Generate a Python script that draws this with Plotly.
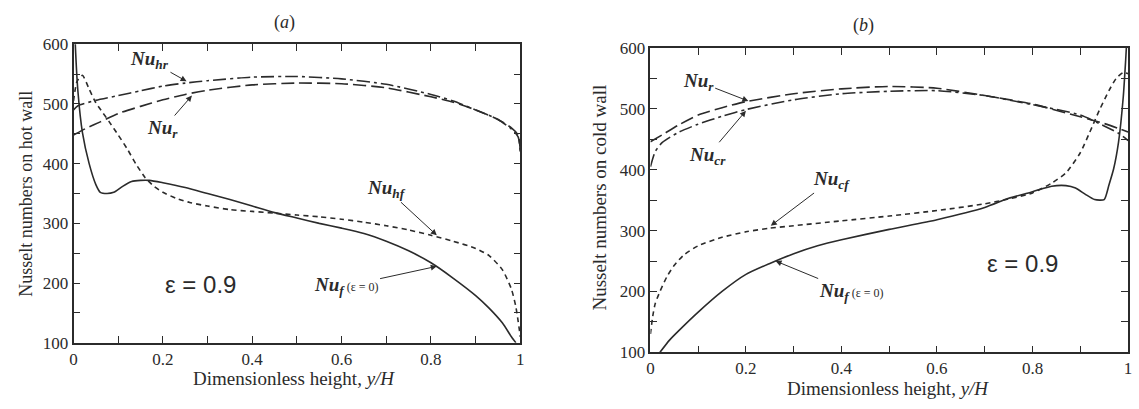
import plotly.graph_objects as go

# ---------------- data: panel (a) hot wall ----------------
hot_nuf_x = [0.0, 0.004, 0.01, 0.02, 0.035, 0.05, 0.06, 0.075, 0.09, 0.11, 0.13, 0.15, 0.17, 0.2, 0.25, 0.3,
             0.35, 0.4, 0.45, 0.5, 0.55, 0.6, 0.65, 0.7, 0.75, 0.8, 0.85, 0.9, 0.93, 0.96, 0.98, 0.99]
hot_nuf_y = [700, 600, 520, 452, 400, 365, 352, 350, 352, 362, 370, 372, 372, 368, 360, 350,
             340, 329, 318, 309, 300, 292, 283, 270, 254, 234, 208, 179, 158, 133, 110, 100]

hot_nuhf_x = [0.0, 0.008, 0.02, 0.035, 0.05, 0.065, 0.08, 0.1, 0.12, 0.14, 0.16, 0.18, 0.2, 0.23, 0.26,
              0.3, 0.35, 0.4, 0.45, 0.5, 0.55, 0.6, 0.65, 0.7, 0.75, 0.8, 0.85, 0.9, 0.93, 0.96, 0.98,
              0.99, 1.0]
hot_nuhf_y = [505, 538, 548, 525, 502, 486, 470, 448, 425, 399, 377, 362, 352, 342, 335,
              329, 323, 320, 317, 314, 311, 307, 302, 296, 289, 280, 270, 258, 246, 222, 190,
              160, 110]

hot_nur_x = [0.0, 0.01, 0.03, 0.06, 0.1, 0.15, 0.2, 0.25, 0.3, 0.4, 0.5, 0.6, 0.7, 0.8, 0.85, 0.9,
             0.95, 0.98, 0.995, 1.0]
hot_nur_y = [448, 452, 460, 470, 484, 496, 507, 516, 523, 532, 535, 534, 527, 512, 503, 490,
             474, 460, 448, 420]

hot_nuhr_x = [0.0, 0.01, 0.05, 0.1, 0.15, 0.2, 0.25, 0.3, 0.4, 0.5, 0.6, 0.7, 0.8, 0.85, 0.9, 0.95,
              0.98, 0.995, 1.0]
hot_nuhr_y = [490, 497, 506, 514, 522, 530, 535, 539, 545, 546, 542, 533, 516, 505, 490, 474,
              458, 445, 420]

# ---------------- data: panel (b) cold wall ----------------
cold_nuf_x = [0.02, 0.04, 0.06, 0.1, 0.15, 0.2, 0.25, 0.3, 0.35, 0.4, 0.5, 0.6, 0.7, 0.75, 0.8, 0.84,
              0.87, 0.89, 0.91, 0.93, 0.95, 0.96, 0.97, 0.98, 0.99, 0.995, 1.0]
cold_nuf_y = [100, 120, 136, 166, 200, 228, 246, 262, 275, 285, 302, 318, 338, 353, 364, 373,
              374, 370, 360, 351, 351, 375, 402, 445, 520, 580, 650]

cold_nucf_x = [0.0, 0.005, 0.01, 0.02, 0.035, 0.05, 0.07, 0.1, 0.15, 0.2, 0.25, 0.3, 0.4, 0.5, 0.6,
               0.7, 0.75, 0.8, 0.84, 0.87, 0.9, 0.92, 0.94, 0.96, 0.975, 0.99, 1.0]
cold_nucf_y = [130, 160, 180, 200, 225, 243, 260, 275, 289, 298, 304, 308, 316, 324, 333,
               344, 352, 362, 378, 395, 428, 462, 498, 530, 550, 560, 558]

cold_nur_x = [0.0, 0.03, 0.06, 0.1, 0.15, 0.2, 0.3, 0.4, 0.5, 0.6, 0.7, 0.8, 0.9, 0.95, 0.98, 1.0]
cold_nur_y = [446, 460, 474, 490, 502, 512, 525, 533, 537, 534, 522, 508, 487, 476, 468, 462]

cold_nucr_x = [0.0, 0.01, 0.025, 0.06, 0.1, 0.15, 0.2, 0.3, 0.4, 0.5, 0.6, 0.7, 0.8, 0.9, 0.95, 0.98, 1.0]
cold_nucr_y = [405, 430, 445, 462, 475, 488, 499, 515, 525, 529, 530, 522, 507, 490, 472, 460, 448]

x_tickvals = [0, 0.1, 0.2, 0.3, 0.4, 0.5, 0.6, 0.7, 0.8, 0.9, 1.0]
x_ticktext = ["0", "", "0.2", "", "0.4", "", "0.6", "", "0.8", "", "1"]
y_tickvals = [100, 150, 200, 250, 300, 350, 400, 450, 500, 550, 600]
y_ticktext = ["100", "", "200", "", "300", "", "400", "", "500", "", "600"]

FONT = "Liberation Serif"
INK = "#2b2b2b"
SOLID = "solid"
SHORT = "5px,4px"
LONG = "13px,5px"
DASHDOT = "13px,4px,3px,4px"

fig = go.Figure()

def add(x, y, dash, xa, ya):
    fig.add_trace(go.Scatter(x=x, y=y, mode="lines", xaxis=xa, yaxis=ya,
                             line=dict(color=INK, width=1.6, dash=dash, shape="spline", smoothing=0.6),
                             showlegend=False, hoverinfo="skip"))

add(hot_nuf_x, hot_nuf_y, SOLID, "x", "y")
add(hot_nuhf_x, hot_nuhf_y, SHORT, "x", "y")
add(hot_nur_x, hot_nur_y, LONG, "x", "y")
add(hot_nuhr_x, hot_nuhr_y, DASHDOT, "x", "y")

add(cold_nuf_x, cold_nuf_y, SOLID, "x2", "y2")
add(cold_nucf_x, cold_nucf_y, SHORT, "x2", "y2")
add(cold_nur_x, cold_nur_y, LONG, "x2", "y2")
add(cold_nucr_x, cold_nucr_y, DASHDOT, "x2", "y2")

W, H = 1139, 409
ax_common = dict(showgrid=False, zeroline=False, showline=True, linecolor=INK, linewidth=1.5,
                 mirror="ticks", ticks="inside", ticklen=7, tickwidth=1.3, tickcolor=INK,
                 ticklabeloverflow="allow",
                 tickfont=dict(family=FONT, size=17, color=INK))

fig.update_layout(
    width=W, height=H, margin=dict(l=0, r=0, t=0, b=0),
    paper_bgcolor="white", plot_bgcolor="white",
    xaxis=dict(domain=[70 / W, 520 / W], anchor="y", range=[0, 1],
               tickvals=x_tickvals, ticktext=x_ticktext, **ax_common),
    yaxis=dict(domain=[1 - 350 / H, 1 - 37 / H], anchor="x", range=[100, 600],
               tickvals=y_tickvals, ticktext=y_ticktext, **ax_common),
    xaxis2=dict(domain=[651 / W, 1132 / W], anchor="y2", range=[0, 1],
                tickvals=x_tickvals, ticktext=x_ticktext, **ax_common),
    yaxis2=dict(domain=[1 - 360 / H, 1 - 41 / H], anchor="x2", range=[100, 600],
                tickvals=y_tickvals, ticktext=y_ticktext, **ax_common),
)

def label(txt, x, y, xr, yr, size=16, family=FONT, **kw):
    fig.add_annotation(text=txt, x=x, y=y, xref=xr, yref=yr, showarrow=False,
                       xanchor="center", yanchor="middle",
                       font=dict(family=family, size=size, color=INK), **kw)

def arrow(txt, tx, ty, px, py, xr, yr, size=19):
    fig.add_annotation(text=txt, x=px, y=py, ax=tx, ay=ty, xref=xr, yref=yr,
                       axref=xr, ayref=yr, showarrow=True, arrowhead=2, arrowsize=1.2,
                       arrowwidth=1, arrowcolor=INK, standoff=0,
                       xanchor="center", yanchor="middle",
                       font=dict(family=FONT, size=size, color=INK))

# titles
label("(<i>a</i>)", 282 / W, 1 - 14 / H, "paper", "paper", size=18)
label("(<i>b</i>)", 866 / W, 1 - 17 / H, "paper", "paper", size=18)
# axis titles
label("Dimensionless height, <i>y/H</i>", 292 / W, 1 - 388 / H, "paper", "paper", size=19)
label("Dimensionless height, <i>y/H</i>", 890 / W, 1 - 398 / H, "paper", "paper", size=19)
label("Nusselt numbers on hot wall", 22 / W, 1 - 194 / H, "paper", "paper", size=18, textangle=-90)
label("Nusselt numbers on cold wall", 600 / W, 1 - 198 / H, "paper", "paper", size=19, textangle=-90)

# panel (a) annotations
EPS0 = "<span style='font-size:12px'> (ε = 0)</span>"
arrow("<b><i>Nu<sub>hr</sub></i></b>", 0.17, 573, 0.253, 538, "x", "y")
arrow("<b><i>Nu<sub>r</sub></i></b>", 0.2, 458, 0.265, 514, "x", "y")
arrow("<b><i>Nu<sub>hf</sub></i></b>", 0.7, 358, 0.813, 280, "x", "y")
arrow("<b><i>Nu<sub>f</sub></i></b>" + EPS0, 0.61, 195, 0.813, 228, "x", "y")
label("ε = 0.9", 0.285, 197, "x", "y", size=24, family="Liberation Sans")

# panel (b) annotations
arrow("<b><i>Nu<sub>r</sub></i></b>", 0.1, 545, 0.205, 513, "x2", "y2")
arrow("<b><i>Nu<sub>cr</sub></i></b>", 0.12, 423, 0.2, 497, "x2", "y2")
arrow("<b><i>Nu<sub>cf</sub></i></b>", 0.38, 384, 0.252, 308, "x2", "y2")
arrow("<b><i>Nu<sub>f</sub></i></b>" + EPS0, 0.42, 199, 0.262, 250, "x2", "y2")
label("ε = 0.9", 0.78, 246, "x2", "y2", size=24, family="Liberation Sans")

fig.write_html("out.html", config={"displayModeBar": False},
               post_script="document.body.style.margin='0';document.body.style.overflow='hidden';")
